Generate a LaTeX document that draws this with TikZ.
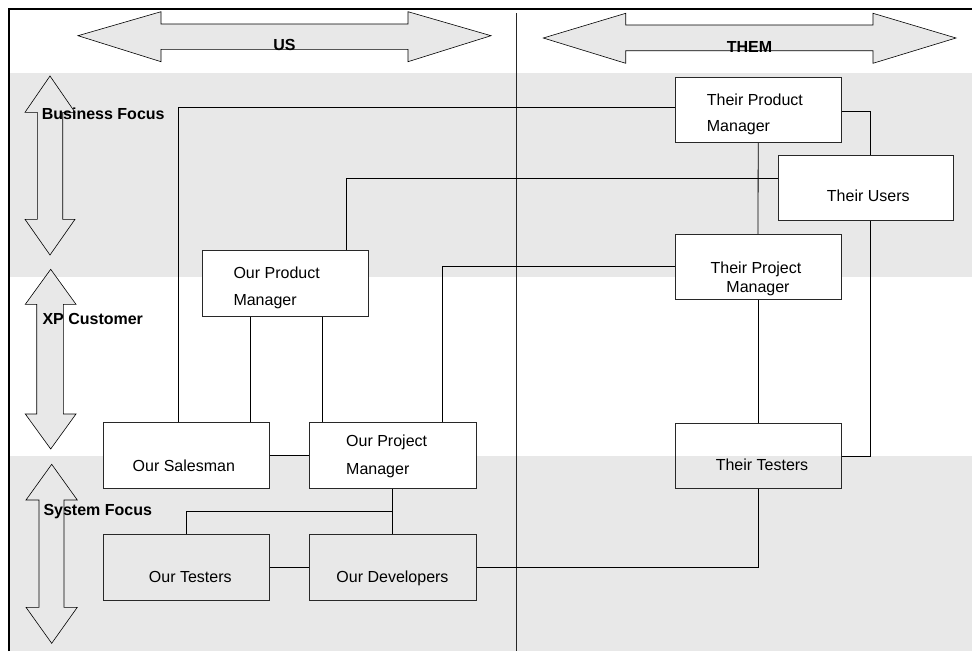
\documentclass[tikz,border=0pt]{standalone}
\usepackage{fontspec}
\setmainfont{Liberation Sans}
\definecolor{band}{RGB}{232,232,232}
\definecolor{boxline}{RGB}{40,40,40}
\tikzset{
  box/.style={draw=boxline, line width=0.8pt, fill=white, rectangle, inner sep=0pt,
              minimum width=166pt, minimum height=65pt},
  openbox/.style={box, fill=none},
  conn/.style={draw=black, line width=0.8pt},
  lbl/.style={inner sep=0pt, font=\fontsize{16}{18}\selectfont},
  blbl/.style={inner sep=0pt, font=\fontsize{16}{18}\selectfont\bfseries},
  bigarrow/.style={fill=band, draw=black, line width=0.6pt, line join=miter}
}
\begin{document}
\begin{tikzpicture}[x=1pt, y=-1pt]
\useasboundingbox (0,0) rectangle (972,651);
% background bands
\fill[band] (10,73) rectangle (972,277);
\fill[band] (10,456) rectangle (972,651);
% frame
\draw[line width=2pt] (9,651) -- (9,9) -- (972,9);
% divider
\draw[line width=1.3pt, black!85] (516.5,13) -- (516.5,651);
% horizontal big arrows
\draw[bigarrow] (78,35.7) -- (161,11.7) -- (161,24) -- (408,24) -- (408,11.7) -- (491,35.7)
  -- (408,61.7) -- (408,49.3) -- (161,49.3) -- (161,61.7) -- cycle;
\draw[bigarrow] (543.3,38) -- (625.7,13.3) -- (625.7,25) -- (873,25) -- (873,13.3) -- (956,38)
  -- (873,63.3) -- (873,50.7) -- (625.7,50.7) -- (625.7,63.3) -- cycle;
% vertical big arrows
\draw[bigarrow] (50,76) -- (75,112.3) -- (62.7,112.3) -- (62.7,219.3) -- (75,219.3) -- (50,255)
  -- (25,219.3) -- (37.3,219.3) -- (37.3,112.3) -- (25,112.3) -- cycle;
\draw[bigarrow] (50.7,269.3) -- (76,304.3) -- (63.3,304.3) -- (63.3,414) -- (76,414) -- (50.7,449)
  -- (25.3,414) -- (36.7,414) -- (36.7,304.3) -- (25.3,304.3) -- cycle;
\draw[bigarrow] (51.7,464.3) -- (77.3,500) -- (64,500) -- (64,607.3) -- (77.3,607.3) -- (51.7,643.3)
  -- (26,607.3) -- (39,607.3) -- (39,500) -- (26,500) -- cycle;
% boxes (placed first so connectors can refer to them)
\path
  (758.2,110.2) node[box] (tpm) {}
  (865.8,187.9) node[box, minimum width=175pt, minimum height=64.3pt] (tu) {}
  (758,266.8)   node[box] (tpj) {}
  (758,456.2)   node[openbox] (tt) {}
  (285,283)     node[box, minimum height=66pt] (opm) {}
  (186.7,455.5) node[box, minimum height=65.6pt] (osm) {}
  (392.5,455.5) node[box, minimum width=167pt, minimum height=65.6pt] (opj) {}
  (186.7,567.2) node[openbox, minimum height=65.7pt] (ote) {}
  (392.5,567.2) node[openbox, minimum width=167pt, minimum height=65.7pt] (odv) {};
% connectors
\draw[conn] (178.3,0 |- osm.north) |- (tpm.west |- 0,107);
\draw[conn] (346,0 |- opm.north) |- (tu.west |- 0,178.3);
\draw[conn] (tpm.south) -- (tpj.north);
\draw[conn] (tpj.south) -- (tt.north);
\draw[conn] (tt.south) |- (odv.east);
\draw[conn] (tpm.east |- 0,111) -| (870,0 |- tu.north);
\draw[conn] (870,0 |- tu.south) |- (tt.east);
\draw[conn] (442.3,0 |- opj.north) |- (tpj.west);
\draw[conn] (250,0 |- opm.south) -- (250,0 |- osm.north);
\draw[conn] (322.3,0 |- opm.south) -- (322.3,0 |- opj.north);
\draw[conn] (osm.east) -- (opj.west);
\draw[conn] (opj.south) -- (odv.north);
\draw[conn] (odv.north |- 0,511.7) -| (ote.north);
\draw[conn] (ote.east) -- (odv.west);
% redraw box outlines on top of connectors
\path
  (758.2,110.2) node[box] {}
  (865.8,187.9) node[box, minimum width=175pt, minimum height=64.3pt] {}
  (758,266.8)   node[box] {}
  (758,456.2)   node[openbox] {}
  (285,283)     node[box, minimum height=66pt] {}
  (186.7,455.5) node[box, minimum height=65.6pt] {}
  (392.5,455.5) node[box, minimum width=167pt, minimum height=65.6pt] {}
  (186.7,567.2) node[openbox, minimum height=65.7pt] {}
  (392.5,567.2) node[openbox, minimum width=167pt, minimum height=65.7pt] {};
% box texts
\node[lbl, anchor=base west] (t1a) at (706.7,105.1) {Their Product};
\node[lbl, anchor=base west] (t1b) at (706.7,131.6) {Manager};
\node[lbl, anchor=base] (t2) at (868.3,201.6) {Their Users};
\node[lbl, anchor=base] (t3a) at (756,273.1) {Their Project};
\node[lbl, anchor=base] (t3b) at (758,292.1) {Manager};
\node[lbl, anchor=base] (t4) at (762,470.6) {Their Testers};
\node[lbl, anchor=base west] (t5a) at (233.3,278.1) {Our Product};
\node[lbl, anchor=base west] (t5b) at (233.3,305.6) {Manager};
\node[lbl, anchor=base] (t6) at (183.8,471.1) {Our Salesman};
\node[lbl, anchor=base west] (t7a) at (346,446.6) {Our Project};
\node[lbl, anchor=base west] (t7b) at (346,474.1) {Manager};
\node[lbl, anchor=base] (t8) at (190.3,582.3) {Our Testers};
\node[lbl, anchor=base] (t9) at (392.5,582.3) {Our Developers};
% bold labels
\node[blbl, anchor=base west] (b1) at (41.7,119.1) {Business Focus};
\node[blbl, anchor=base west] (b2) at (42.3,324.6) {XP Customer};
\node[blbl, anchor=base west] (b3) at (43.3,515.6) {System Focus};
\node[blbl, anchor=base] (b4) at (284.5,50.6) {US};
\node[blbl, anchor=base] (b5) at (749.5,52.3) {THEM};
\end{tikzpicture}
\end{document}
